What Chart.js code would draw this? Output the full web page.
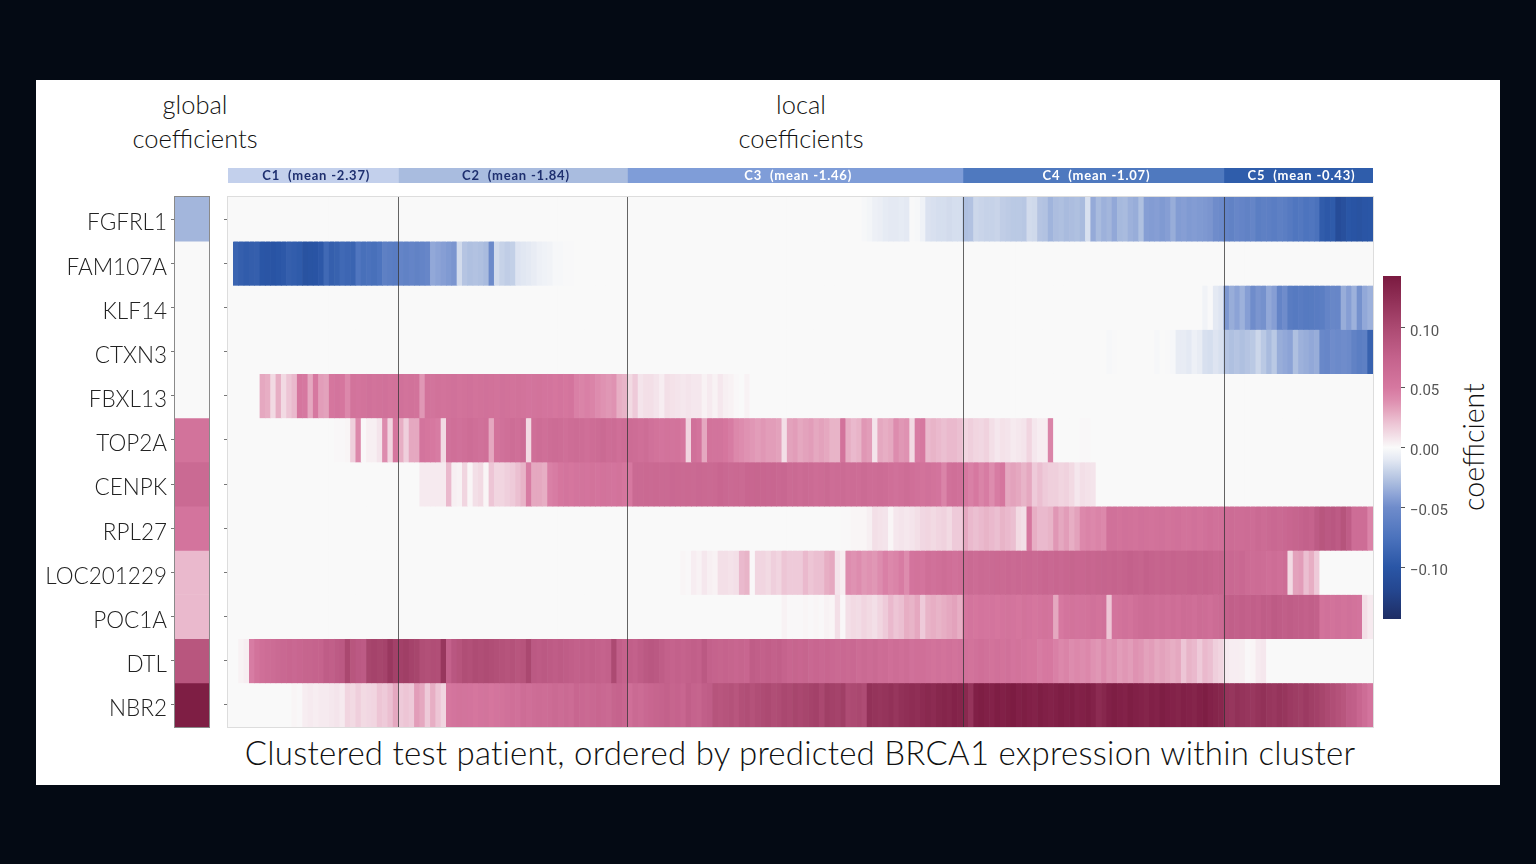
<!DOCTYPE html>
<html>
<head>
<meta charset="utf-8">
<title>Clustered test patient heatmap</title>
<script src="https://cdn.jsdelivr.net/npm/chart.js@4"></script>
<style>
    html, body { margin: 0; padding: 0; background: #040a14; width: 1536px; height: 864px; overflow: hidden; }
    #panel { position: absolute; left: 36px; top: 80px; width: 1464px; height: 705px; background: #fff; }
    canvas { position: absolute; }
    .txt { position: absolute; font-family: Lato, sans-serif; font-weight: 300; color: #111; white-space: nowrap; transform: translateX(-50%); text-align: center; }
</style>
</head>
<body>
<div id="panel"></div>
<div class="txt" style="left:195px;top:87px;font-size:25.5px;line-height:34px;">global<br>coefficients</div>
<div class="txt" style="left:801px;top:87px;font-size:25.5px;line-height:34px;">local<br>coefficients</div>
<div class="txt" style="left:800px;top:732px;font-size:33px;line-height:40px;letter-spacing:0.25px;">Clustered test patient, ordered by predicted BRCA1 expression within cluster</div>
<div class="txt" style="left:1473px;top:447px;font-size:28.5px;line-height:30px;transform:translate(-50%,-50%) rotate(-90deg);">coefficient</div>
<canvas id="band" width="1145" height="15" style="left:228px;top:168px"></canvas>
<canvas id="global" width="174" height="532" style="left:36px;top:196px"></canvas>
<canvas id="heat" width="1156" height="532" style="left:218px;top:196px"></canvas>
<canvas id="cbar" width="90" height="345" style="left:1383px;top:275px"></canvas>
<script>
const genes = ["FGFRL1", "FAM107A", "KLF14", "CTXN3", "FBXL13", "TOP2A", "CENPK", "RPL27", "LOC201229", "POC1A", "DTL", "NBR2"];

const clusterNames = ["C1  (mean -2.37)", "C2  (mean -1.84)", "C3  (mean -1.46)", "C4  (mean -1.07)", "C5  (mean -0.43)"];
const clusterSizes = [32, 43, 63, 49, 28];
const clusterColors = ["#c3d0ec", "#a9bcdf", "#7f9dd8", "#4f79bf", "#2f5dab"];
const clusterText = ["#1e2f6f", "#1e2f6f", "#ffffff", "#ffffff", "#ffffff"];

// coefficients x 1000
const globalCoef = [-32, 0, 0, 0, 0, 56, 66, 54, 24, 24, 88, 140];

// local coefficients x 1000, one value per patient, 20 per line
const FGFRL1 = [
    0,0,0,0,0,0,0,0,0,0,0,0,0,0,0,0,0,0,0,0,
    0,0,0,0,0,0,0,0,0,0,0,0,0,0,0,0,0,0,0,0,
    0,0,0,0,0,0,0,0,0,0,0,0,0,0,0,0,0,0,0,0,
    0,0,0,0,0,0,0,0,0,0,0,0,0,0,0,0,0,0,0,0,
    0,0,0,0,0,0,0,0,0,0,0,0,0,0,0,0,0,0,0,0,
    0,0,0,0,0,0,0,0,0,0,0,0,0,0,0,0,0,0,0,-2,
    -3,-6,-7,-9,-10,-10,-9,-10,-1,-2,-5,-13,-14,-15,-15,-16,-15,-15,-28,-27,
    -18,-19,-20,-20,-19,-22,-23,-24,-24,-25,-16,-17,-26,-27,-33,-29,-28,-30,-29,-28,
    -30,-14,-37,-30,-34,-32,-38,-31,-30,-34,-36,-28,-42,-43,-42,-44,-42,-36,-43,-42,
    -44,-43,-44,-45,-46,-50,-52,-58,-60,-56,-58,-60,-57,-64,-62,-63,-65,-62,-64,-68,
    -72,-70,-74,-72,-76,-95,-98,-96,-112,-108,-100,-102,-104,-101,-100];
const FAM107A = [
    0,-88,-92,-95,-93,-92,-100,-101,-102,-100,-98,-92,-94,-96,-104,-103,-102,-98,-84,-92,
    -90,-84,-86,-88,-72,-78,-76,-78,-74,-62,-64,-66,-58,-60,-58,-60,-58,-56,-38,-40,
    -42,-44,-46,-16,-26,-28,-27,-28,-30,-52,-16,-20,-22,-21,-12,-11,-10,-8,-6,-5,
    -4,-2,-2,-1,-1,0,0,0,0,0,0,0,0,0,0,0,0,0,0,0,
    0,0,0,0,0,0,0,0,0,0,0,0,0,0,0,0,0,0,0,0,
    0,0,0,0,0,0,0,0,0,0,0,0,0,0,0,0,0,0,0,0,
    0,0,0,0,0,0,0,0,0,0,0,0,0,0,0,0,0,0,0,0,
    0,0,0,0,0,0,0,0,0,0,0,0,0,0,0,0,0,0,0,0,
    0,0,0,0,0,0,0,0,0,0,0,0,0,0,0,0,0,0,0,0,
    0,0,0,0,0,0,0,0,0,0,0,0,0,0,0,0,0,0,0,0,
    0,0,0,0,0,0,0,0,0,0,0,0,0,0,0];
const KLF14 = [
    0,0,0,0,0,0,0,0,0,0,0,0,0,0,0,0,0,0,0,0,
    0,0,0,0,0,0,0,0,0,0,0,0,0,0,0,0,0,0,0,0,
    0,0,0,0,0,0,0,0,0,0,0,0,0,0,0,0,0,0,0,0,
    0,0,0,0,0,0,0,0,0,0,0,0,0,0,0,0,0,0,0,0,
    0,0,0,0,0,0,0,0,0,0,0,0,0,0,0,0,0,0,0,0,
    0,0,0,0,0,0,0,0,0,0,0,0,0,0,0,0,0,0,0,0,
    0,0,0,0,0,0,0,0,0,0,0,0,0,0,0,0,0,0,0,0,
    0,0,0,0,0,0,0,0,0,0,0,0,0,0,0,0,0,0,0,0,
    0,0,0,0,0,0,0,0,0,0,0,0,0,0,0,0,0,0,0,0,
    0,0,0,-4,-1,-10,-12,-45,-36,-40,-34,-42,-50,-46,-48,-38,-42,-58,-50,-66,
    -68,-66,-68,-67,-66,-64,-58,-55,-56,-36,-42,-34,-48,-38,-34];
const CTXN3 = [
    0,0,0,0,0,0,0,0,0,0,0,0,0,0,0,0,0,0,0,0,
    0,0,0,0,0,0,0,0,0,0,0,0,0,0,0,0,0,0,0,0,
    0,0,0,0,0,0,0,0,0,0,0,0,0,0,0,0,0,0,0,0,
    0,0,0,0,0,0,0,0,0,0,0,0,0,0,0,0,0,0,0,0,
    0,0,0,0,0,0,0,0,0,0,0,0,0,0,0,0,0,0,0,0,
    0,0,0,0,0,0,0,0,0,0,0,0,0,0,0,0,0,0,0,0,
    0,0,0,0,0,0,0,0,0,0,0,0,0,0,0,0,0,0,0,0,
    0,0,0,0,0,0,0,0,0,0,0,0,0,0,0,0,0,0,0,0,
    0,0,0,0,0,-2,-1,0,0,0,0,0,0,0,-2,0,-1,-2,-8,-8,
    -10,-6,-8,-14,-15,-12,-14,-26,-28,-26,-28,-26,-24,-18,-24,-30,-24,-36,-38,-40,
    -28,-34,-36,-38,-36,-54,-56,-50,-52,-50,-52,-60,-64,-62,-90];
const FBXL13 = [
    0,0,0,0,0,0,30,28,12,28,12,20,24,52,50,30,50,34,32,52,
    54,52,42,56,54,56,58,56,57,58,56,57,58,56,57,56,36,56,55,57,
    56,57,58,56,57,58,56,57,58,57,56,58,57,56,57,56,54,55,56,54,
    54,52,54,52,54,46,44,46,44,40,38,36,38,28,26,12,18,8,10,10,
    8,5,10,9,8,7,8,7,7,3,6,3,7,4,3,1,0,3,0,0,
    0,0,0,0,0,0,0,0,0,0,0,0,0,0,0,0,0,0,0,0,
    0,0,0,0,0,0,0,0,0,0,0,0,0,0,0,0,0,0,0,0,
    0,0,0,0,0,0,0,0,0,0,0,0,0,0,0,0,0,0,0,0,
    0,0,0,0,0,0,0,0,0,0,0,0,0,0,0,0,0,0,0,0,
    0,0,0,0,0,0,0,0,0,0,0,0,0,0,0,0,0,0,0,0,
    0,0,0,0,0,0,0,0,0,0,0,0,0,0,0];
const TOP2A = [
    0,0,0,0,0,0,0,0,0,0,0,0,0,0,0,0,0,0,0,0,
    1,1,2,16,42,1,4,4,8,40,14,52,28,16,30,30,54,52,50,48,
    12,58,60,58,60,62,60,58,60,30,56,58,60,62,60,64,12,60,62,60,
    62,64,62,60,62,64,62,60,62,64,66,62,64,60,62,64,62,60,62,58,
    56,54,56,55,56,52,14,58,54,30,56,55,55,52,48,42,40,38,36,34,
    36,34,34,32,10,32,34,30,32,34,30,32,30,26,26,56,28,24,26,36,
    34,8,30,28,30,40,36,38,12,48,50,24,26,24,22,24,24,22,14,16,
    14,13,15,10,7,9,8,6,7,8,14,7,5,5,44,0,0,0,0,0,
    1,1,0,0,0,0,0,0,0,0,0,0,0,0,0,0,0,0,0,0,
    0,0,0,0,0,0,0,0,0,0,0,0,0,0,0,0,0,0,0,0,
    0,0,0,0,0,0,0,0,0,0,0,0,0,0,0];
const CENPK = [
    0,0,0,0,0,0,0,0,0,0,0,0,0,0,0,0,0,0,0,0,
    0,0,0,0,0,0,0,0,0,0,0,0,0,0,0,0,6,6,6,6,
    6,24,4,3,14,2,10,12,2,20,14,14,16,18,22,26,48,30,30,28,
    46,48,52,54,52,54,55,54,56,54,56,55,54,56,52,50,66,66,67,66,
    67,66,66,68,67,66,67,66,68,67,66,67,70,68,66,67,66,70,70,71,
    70,69,70,68,69,65,66,64,66,65,62,64,66,63,64,65,62,64,63,65,
    62,63,64,62,60,58,60,62,60,58,56,58,56,54,44,58,60,58,50,46,
    50,44,48,40,48,52,30,32,30,26,30,18,22,18,16,16,14,15,12,7,
    10,9,8,0,0,0,0,0,0,0,0,0,0,0,0,0,0,0,0,0,
    0,0,0,0,0,0,0,0,0,0,0,0,0,0,0,0,0,0,0,0,
    0,0,0,0,0,0,0,0,0,0,0,0,0,0,0];
const RPL27 = [
    0,0,0,0,0,0,0,0,0,0,0,0,0,0,0,0,0,0,0,0,
    0,0,0,0,0,0,0,0,0,0,0,0,0,0,0,0,0,0,0,0,
    0,0,0,0,0,0,0,0,0,0,0,0,0,0,0,0,0,0,0,0,
    0,0,0,0,0,0,0,0,0,0,0,0,0,0,0,0,0,0,0,0,
    0,0,0,0,0,0,0,0,0,0,0,0,0,0,0,0,0,0,0,0,
    0,0,0,0,0,0,0,0,0,0,0,0,0,0,0,1,1,2,2,2,
    4,10,9,8,2,7,8,7,8,10,13,14,12,14,15,12,18,18,30,24,
    22,24,26,24,22,26,24,22,12,10,52,28,24,24,26,36,30,34,28,32,
    42,44,42,44,42,58,58,56,58,57,56,58,57,56,57,58,56,57,58,56,
    56,58,56,58,60,58,59,62,64,62,63,64,62,66,64,66,68,66,68,70,
    72,74,76,74,82,88,84,86,82,90,80,62,62,62,44];
const LOC201229 = [
    0,0,0,0,0,0,0,0,0,0,0,0,0,0,0,0,0,0,0,0,
    0,0,0,0,0,0,0,0,0,0,0,0,0,0,0,0,0,0,0,0,
    0,0,0,0,0,0,0,0,0,0,0,0,0,0,0,0,0,0,0,0,
    0,0,0,0,0,0,0,0,0,0,0,0,0,0,0,0,0,0,0,0,
    0,0,0,0,0,2,1,5,3,7,4,3,10,10,9,10,24,26,1,14,
    14,12,16,14,20,18,18,18,24,20,22,22,28,30,8,5,40,38,40,36,
    38,36,40,46,42,44,48,40,54,56,54,60,58,60,62,60,58,60,64,66,
    64,66,65,66,67,66,68,66,68,67,68,66,68,70,68,70,68,70,72,70,
    70,72,70,72,73,72,74,72,74,76,74,72,76,74,72,74,72,74,72,72,
    74,74,72,74,72,70,72,66,68,66,68,64,62,64,62,60,62,60,62,12,
    32,34,22,28,18,0,0,0,0,0,0,0,0,0,0];
const POC1A = [
    0,0,0,0,0,0,0,0,0,0,0,0,0,0,0,0,0,0,0,0,
    0,0,0,0,0,0,0,0,0,0,0,0,0,0,0,0,0,0,0,0,
    0,0,0,0,0,0,0,0,0,0,0,0,0,0,0,0,0,0,0,0,
    0,0,0,0,0,0,0,0,0,0,0,0,0,0,0,0,0,0,0,0,
    0,0,0,0,0,0,0,0,0,0,0,0,0,0,0,0,0,0,0,0,
    0,0,0,0,3,1,1,1,2,1,2,1,3,2,10,1,10,12,11,14,
    12,10,14,18,24,20,22,28,26,30,18,26,28,26,28,30,32,28,52,54,
    52,54,53,54,52,54,55,54,52,56,54,52,54,56,54,30,50,54,56,54,
    55,56,58,56,58,20,54,56,58,56,60,62,64,62,60,62,60,62,60,64,
    62,60,64,62,60,64,66,76,78,76,78,76,78,76,80,78,82,80,78,80,
    78,78,76,78,76,56,58,56,58,56,58,56,54,10,6];
const DTL = [
    0,0,3,5,48,56,60,62,64,66,68,70,68,70,72,72,74,74,80,78,
    82,84,102,88,84,82,104,106,104,106,116,108,108,110,106,104,96,94,96,95,
    118,76,86,90,96,94,98,96,98,96,94,92,90,92,88,90,102,84,82,84,
    82,80,82,80,78,76,78,76,78,76,74,76,100,78,74,78,76,80,84,86,
    84,80,76,74,76,74,76,78,76,84,76,74,72,74,72,70,72,70,80,78,
    76,78,76,78,74,70,72,70,72,68,70,68,70,68,66,68,66,68,64,66,
    64,66,62,64,60,62,60,62,58,60,60,58,56,58,56,58,56,58,58,56,
    58,60,58,56,58,56,58,54,56,54,52,52,48,50,50,46,42,44,40,42,
    40,42,38,36,40,36,38,34,36,34,38,36,32,34,30,32,30,28,30,20,
    26,24,18,24,22,16,14,6,5,5,4,1,2,6,7,0,0,0,0,0,
    0,0,0,0,0,0,0,0,0,0,0,0,0,0,0];
const NBR2 = [
    0,0,0,0,0,0,0,0,0,0,0,0,2,1,5,6,5,6,6,7,
    8,6,14,12,16,12,13,14,20,18,22,30,18,20,18,34,30,18,28,20,
    14,52,54,56,55,54,52,54,55,52,54,56,58,60,58,62,60,62,64,62,
    64,66,64,66,64,70,68,66,68,70,68,66,72,74,70,60,66,64,68,70,
    72,74,76,72,74,70,78,74,72,78,80,90,88,90,92,88,94,96,92,96,
    98,100,96,98,102,100,104,102,104,106,108,102,110,108,106,110,98,100,102,98,
    122,120,118,120,122,118,122,124,126,124,128,130,128,132,134,132,136,134,130,120,
    138,140,138,136,140,138,140,142,138,140,138,136,140,138,136,138,140,138,140,136,
    138,140,136,128,132,138,140,138,136,140,138,136,134,138,136,140,138,136,134,138,
    136,134,138,140,136,134,132,120,118,122,120,118,116,120,122,118,116,120,118,114,
    112,110,114,110,108,104,100,96,92,88,80,78,70,62,54];

const rows = [FGFRL1, FAM107A, KLF14, CTXN3, FBXL13, TOP2A, CENPK, RPL27, LOC201229, POC1A, DTL, NBR2];

const colorbarTicks = [-0.10, -0.05, 0, 0.05, 0.10];
const colorbarRange = [-0.1435, 0.1435];
// colour stops of the diverging scale: value x 1000, r, g, b
const colorStops = [
    [-144, 30, 45, 100], [-120, 36, 70, 143], [-100, 42, 86, 166], [-75, 76, 115, 189], [-50, 111, 140, 203],
    [-40, 140, 163, 214], [-30, 169, 187, 222], [-20, 198, 210, 232], [-10, 228, 233, 243], [0, 250, 250, 250],
    [10, 243, 223, 231], [20, 237, 197, 213], [30, 229, 168, 192], [40, 221, 140, 174], [50, 214, 120, 160],
    [75, 196, 98, 140], [100, 172, 74, 114], [125, 143, 46, 85], [144, 122, 26, 64]
];

const ZERO_COLOR = "#f9f9f9";

function coefColor(v) {
    if (v == 0) return ZERO_COLOR;
    for (let i = 1; i < colorStops.length; i++) {
        if (v <= colorStops[i][0]) {
            let a = colorStops[i - 1], b = colorStops[i];
            let t = (v - a[0]) / (b[0] - a[0]);
            return "rgb(" + [1, 2, 3].map(k => Math.round(a[k] + (b[k] - a[k]) * t)).join(",") + ")";
        }
    }
    let last = colorStops[colorStops.length - 1];
    return "rgb(" + last[1] + "," + last[2] + "," + last[3] + ")";
}

const patients = FGFRL1.map((v, i) => i);
const rowTicks = genes.map((g, i) => i + 0.5);

// same y axis for both heat panels: one row per gene, first gene on top
function rowAxis(width, showLabels) {
    return {
        min: 0, max: genes.length, reverse: true, stacked: true,
        afterFit: function (scale) {
            scale.width = width;
            // chart area has to fill the canvas, no room kept for the tick labels
            scale.paddingTop = 0;
            scale.paddingBottom = 0;
        },
        afterBuildTicks: function (scale) { scale.ticks = rowTicks.map(v => ({ value: v })); },
        grid: { drawOnChartArea: false, drawTicks: true, tickLength: 4, color: "#777" },
        border: { display: false },
        ticks: {
            autoSkip: false, padding: 4, labelOffset: 4, color: "#222",
            font: { family: "Lato", size: 22.5, weight: 300 },
            callback: function (value, index) { return showLabels ? genes[index] : ""; }
        }
    };
}

// draws the panel background and frame
function framePlugin(frameColor) {
    return {
        id: "frame",
        beforeDatasetsDraw: function (chart) {
            let a = chart.chartArea, c = chart.ctx;
            c.fillStyle = ZERO_COLOR;
            c.fillRect(a.left, a.top, a.width, a.height);
        },
        afterDatasetsDraw: function (chart) {
            let a = chart.chartArea, c = chart.ctx;
            c.strokeStyle = frameColor;
            c.lineWidth = 1;
            c.strokeRect(a.left - 0.5, a.top - 0.5, a.width + 1, a.height + 1);
        }
    };
}

// vertical lines where a cluster ends
const clusterLines = {
    id: "clusterLines",
    afterDatasetsDraw: function (chart) {
        let a = chart.chartArea, c = chart.ctx, x = chart.scales.x;
        let k = 0;
        c.strokeStyle = "rgba(50,50,50,0.75)";
        c.lineWidth = 1;
        clusterSizes.slice(0, -1).forEach(function (n) {
            k += n;
            let px = Math.round((x.getPixelForValue(k - 1) + x.getPixelForValue(k)) / 2) + 0.5;
            c.beginPath();
            c.moveTo(px, a.top);
            c.lineTo(px, a.bottom);
            c.stroke();
        });
    }
};

// cluster labels on the band
const bandLabels = {
    id: "bandLabels",
    afterDatasetsDraw: function (chart) {
        let c = chart.ctx;
        c.font = "bold 13px Lato";
        c.letterSpacing = "0.8px";
        c.textAlign = "center";
        c.textBaseline = "middle";
        clusterNames.forEach(function (name, i) {
            let bar = chart.getDatasetMeta(i).data[0];
            c.fillStyle = clusterText[i];
            c.fillText(name, (bar.base + bar.x) / 2 + 3, chart.chartArea.top + 8);
        });
    }
};

Chart.defaults.animation = false;
Chart.defaults.responsive = false;
Chart.defaults.plugins.legend.display = false;
Chart.defaults.plugins.tooltip.enabled = false;

new Chart(document.getElementById("band"), {
    type: "bar",
    data: {
        labels: ["clusters"],
        datasets: clusterSizes.map((n, i) => ({ data: [n], backgroundColor: clusterColors[i], barPercentage: 1, categoryPercentage: 1 }))
    },
    options: {
        indexAxis: "y",
        scales: {
            x: { display: false, stacked: true, min: 0, max: patients.length },
            y: { display: false, stacked: true }
        }
    },
    plugins: [bandLabels]
});

new Chart(document.getElementById("global"), {
    type: "bar",
    data: {
        labels: ["global"],
        datasets: genes.map((g, i) => ({
            label: g, data: [1], backgroundColor: coefColor(globalCoef[i]),
            barPercentage: 1, categoryPercentage: 1
        }))
    },
    options: {
        layout: { padding: { top: 1, bottom: 1, right: 1 } },
        scales: { x: { display: false, stacked: true }, y: rowAxis(139, true) }
    },
    plugins: [framePlugin("#8a8a8a")]
});

new Chart(document.getElementById("heat"), {
    type: "bar",
    data: {
        labels: patients,
        datasets: genes.map((g, i) => ({
            label: g,
            data: patients.map(() => 1),
            backgroundColor: rows[i].map(coefColor),
            barPercentage: 1, categoryPercentage: 1
        }))
    },
    options: {
        layout: { padding: { top: 1, bottom: 1, right: 1 } },
        scales: { x: { display: false, stacked: true }, y: rowAxis(10, false) }
    },
    plugins: [framePlugin("#dddddd"), clusterLines]
});

new Chart(document.getElementById("cbar"), {
    type: "bar",
    data: {
        labels: ["coefficient"],
        datasets: [{
            data: [colorbarRange],
            barPercentage: 1, categoryPercentage: 1,
            backgroundColor: function (ctx) {
                let area = ctx.chart.chartArea, y = ctx.chart.scales.y;
                if (!area || !y) return "#fff";
                let g = ctx.chart.ctx.createLinearGradient(0, area.bottom, 0, area.top);
                colorStops.forEach(function (s) {
                    let t = (y.getPixelForValue(s[0] / 1000) - area.bottom) / (area.top - area.bottom);
                    g.addColorStop(Math.min(1, Math.max(0, t)), "rgb(" + s[1] + "," + s[2] + "," + s[3] + ")");
                });
                return g;
            }
        }]
    },
    options: {
        layout: { padding: { top: 1, bottom: 1 } },
        scales: {
            x: { display: false },
            y: {
                position: "right",
                min: colorbarRange[0], max: colorbarRange[1],
                afterFit: function (scale) {
                    scale.width = 72;
                    scale.paddingTop = 0;
                    scale.paddingBottom = 0;
                },
                afterBuildTicks: function (scale) { scale.ticks = colorbarTicks.map(v => ({ value: v })); },
                grid: { drawOnChartArea: false, drawTicks: true, tickLength: 4, color: "#555" },
                border: { display: false },
                ticks: {
                    autoSkip: false, padding: 5, labelOffset: 4, color: "#555",
                    font: { family: "Roboto", size: 15 },
                    callback: function (value) { return value.toFixed(2).replace("-", "\u2212"); }
                }
            }
        }
    }
});
</script>
</body>
</html>
